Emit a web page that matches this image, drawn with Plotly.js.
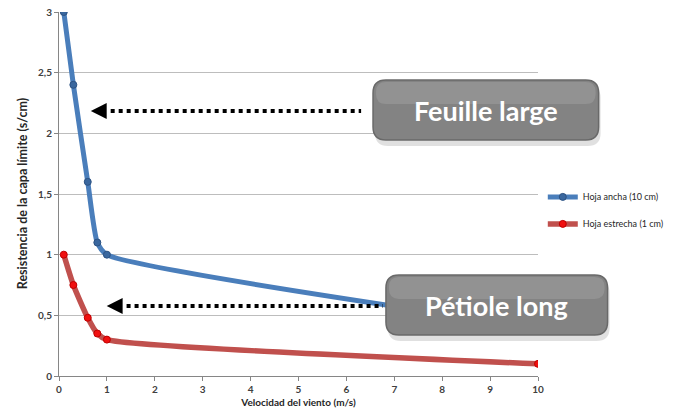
<!DOCTYPE html>
<html><head><meta charset="utf-8">
<script src="https://cdn.plot.ly/plotly-3.0.1.min.js"></script>
<style>html,body{margin:0;padding:0;background:#fff}</style>
</head><body><div id="chart" style="width:681px;height:412px"></div>
<script>
// ---- data ----
const windSpeed = [0.1, 0.3, 0.6, 0.8, 1, 10];
const wideLeaf = [3, 2.4, 1.6, 1.1, 1, 0.4];
const narrowLeaf = [1, 0.75, 0.48, 0.35, 0.3, 0.1];
const seriesNames = ['Hoja ancha (10 cm)', 'Hoja estrecha (1 cm)'];
const xTicks = [0, 1, 2, 3, 4, 5, 6, 7, 8, 9, 10];
const yTicks = [0, 0.5, 1, 1.5, 2, 2.5, 3];
const calloutLabels = ['Feuille large', 'Pétiole long'];
const xTitle = 'Velocidad del viento (m/s)';
const yTitle = 'Resistencia de la capa límite (s/cm)';

// ---- layout geometry (pixels) ----
const W = 681, H = 412;
const M = {l: 59, r: 140, t: 12, b: 36};
const PW = W - M.l - M.r, PH = H - M.t - M.b;
const px = x => (x - M.l) / PW;
const py = y => (H - M.b - y) / PH;

function roundRect(x0, y0, x1, y1, r) {
  const P = (x, y) => px(x).toFixed(5) + ',' + py(y).toFixed(5);
  return 'M' + P(x0 + r, y0) + ' L' + P(x1 - r, y0) + ' Q' + P(x1, y0) + ' ' + P(x1, y0 + r) +
    ' L' + P(x1, y1 - r) + ' Q' + P(x1, y1) + ' ' + P(x1 - r, y1) +
    ' L' + P(x0 + r, y1) + ' Q' + P(x0, y1) + ' ' + P(x0, y1 - r) +
    ' L' + P(x0, y0 + r) + ' Q' + P(x0, y0) + ' ' + P(x0 + r, y0) + ' Z';
}
function tri(tipX, tipY, len, half) {
  const P = (x, y) => px(x).toFixed(5) + ',' + py(y).toFixed(5);
  return 'M' + P(tipX, tipY) + ' L' + P(tipX + len, tipY - half) + ' L' + P(tipX + len, tipY + half) + ' Z';
}

const boxes = [
  {x0: 375, y0: 80, x1: 602, y1: 140, arrowTip: 91, arrowY: 111, lineEnd: 363},
  {x0: 388, y0: 275, x1: 611, y1: 335, arrowTip: 107, arrowY: 306, lineEnd: 385}
];

const shapes = [];
const annotations = [];
boxes.forEach((b, i) => {
  shapes.push({type: 'line', xref: 'paper', yref: 'paper', layer: 'above',
    x0: px(b.arrowTip + 20), x1: px(b.lineEnd), y0: py(b.arrowY), y1: py(b.arrowY),
    line: {color: '#000', width: 4, dash: '4px,4px'}});
  shapes.push({type: 'path', xref: 'paper', yref: 'paper', layer: 'above',
    path: tri(b.arrowTip, b.arrowY, 16, 8), fillcolor: '#000', line: {width: 0}});
  shapes.push({type: 'path', xref: 'paper', yref: 'paper', layer: 'above',
    path: roundRect(b.x0 + 2, b.y0 + 5, b.x1 + 2, b.y1 + 6, 13),
    fillcolor: 'rgba(0,0,0,0.12)', line: {width: 0}});
  shapes.push({type: 'path', xref: 'paper', yref: 'paper', layer: 'above',
    path: roundRect(b.x0, b.y0, b.x1, b.y1, 13),
    fillcolor: '#838383', line: {color: '#696969', width: 1.5}});
  shapes.push({type: 'path', xref: 'paper', yref: 'paper', layer: 'above',
    path: roundRect(b.x0 + 3, b.y0 + 2, b.x1 - 3, b.y0 + 24, 10),
    fillcolor: 'rgba(255,255,255,0.12)', line: {width: 0}});
  annotations.push({xref: 'paper', yref: 'paper', x: px((b.x0 + b.x1) / 2), y: py((b.y0 + b.y1) / 2),
    text: '<b>' + calloutLabels[i] + '</b>', showarrow: false,
    font: {family: 'Lato, "Open Sans", sans-serif', size: 27, color: '#ffffff'},
    xanchor: 'center', yanchor: 'middle'});
});

// y-axis title placed as a rotated annotation
annotations.push({xref: 'paper', yref: 'paper', x: px(22), y: py(194), textangle: -90,
  text: '<b>' + yTitle + '</b>', showarrow: false, xanchor: 'center', yanchor: 'middle',
  font: {family: 'Lato, "Open Sans", sans-serif', size: 12.5, color: '#262626'}});

const traces = [
  {x: windSpeed, y: wideLeaf, name: seriesNames[0], type: 'scatter', mode: 'lines+markers',
   legendgroup: 'a',
   line: {color: '#4a7ebb', width: 5, shape: 'spline', smoothing: 0.6},
   marker: {color: '#3a679e', size: 7, line: {color: '#2c5283', width: 1}}},
  {x: windSpeed, y: narrowLeaf, name: seriesNames[1], type: 'scatter', mode: 'lines+markers',
   legendgroup: 'b',
   line: {color: '#c0504d', width: 5.5, shape: 'spline', smoothing: 0.6},
   marker: {color: '#f01010', size: 7, line: {color: '#c00000', width: 1}}}
];

const tickFont = {family: 'Lato, "Open Sans", sans-serif', size: 10, color: '#404040', weight: 'bold'};

const layout = {
  width: W, height: H,
  margin: M,
  paper_bgcolor: '#ffffff', plot_bgcolor: '#ffffff',
  separators: ',.',
  font: {family: 'Lato, "Open Sans", sans-serif'},
  xaxis: {
    range: [0, 10], tickvals: xTicks, ticktext: xTicks.map(String),
    showgrid: false, zeroline: false,
    showline: true, linecolor: '#868686', linewidth: 1,
    ticks: 'outside', ticklen: 4, tickcolor: '#868686',
    tickfont: tickFont, automargin: false,
    title: {text: '<b>' + xTitle + '</b>', font: {family: 'Lato, "Open Sans", sans-serif', size: 10, color: '#262626'}, standoff: 4}
  },
  yaxis: {
    range: [0, 3], tickvals: yTicks, ticktext: yTicks.map(v => String(v).replace('.', ',')),
    showgrid: true, gridcolor: '#bdbdbd', gridwidth: 1, zeroline: false,
    showline: true, linecolor: '#868686', linewidth: 1,
    ticks: 'outside', ticklen: 4, tickcolor: '#868686',
    tickfont: tickFont, automargin: false
  },
  legend: {
    x: 1.01, xanchor: 'left', y: 0.455, yanchor: 'middle',
    font: {family: 'Lato, "Open Sans", sans-serif', size: 9, color: '#262626'},
    bgcolor: 'rgba(0,0,0,0)', tracegroupgap: 8, itemwidth: 30
  },
  shapes: shapes,
  annotations: annotations,
  showlegend: true
};

Plotly.newPlot('chart', traces, layout, {displayModeBar: false, staticPlot: true});
</script></body></html>
